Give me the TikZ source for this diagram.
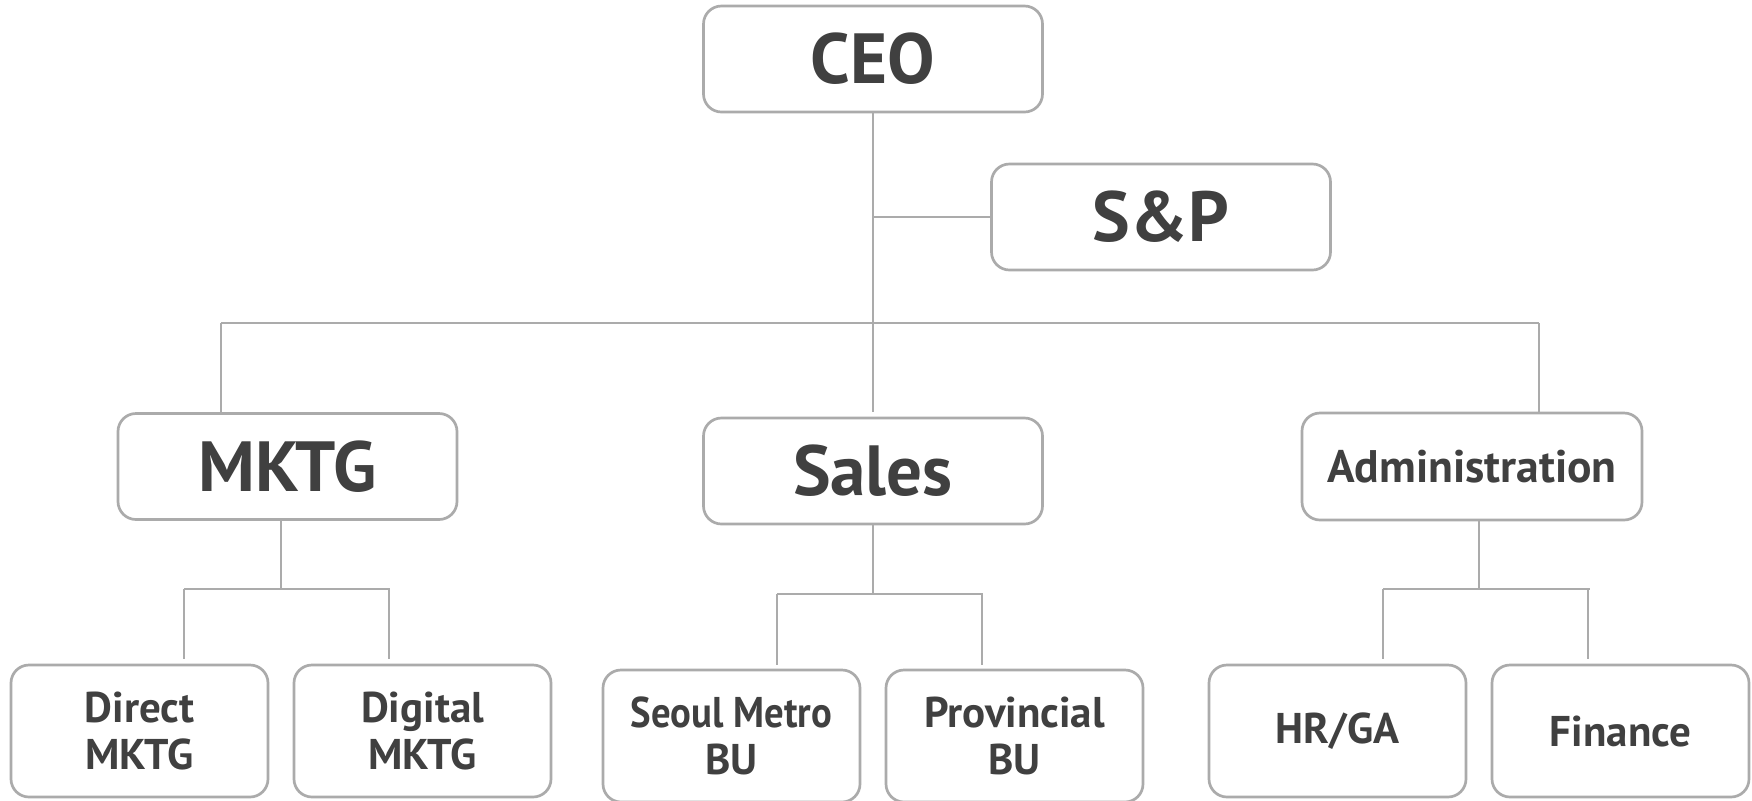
\documentclass[tikz,border=0pt]{standalone}
\usepackage{fontspec}
\setmainfont{PT Sans}
\definecolor{linegray}{HTML}{ABABAB}
\definecolor{txt}{HTML}{404040}
\begin{document}
\begin{tikzpicture}[x=0.5pt,y=-0.5pt,
  box/.style={draw=linegray, line width=1.35pt, rounded corners=9pt, fill=white,
    text=txt, align=center, inner sep=0pt},
  bigbox/.style={box, minimum width=169.5pt, minimum height=53pt,
    font=\fontsize{35.5}{40}\selectfont\bfseries},
  midbox/.style={box, minimum width=170pt, minimum height=53.5pt,
    font=\fontsize{22.8}{27}\selectfont\bfseries},
  smallbox/.style={box, minimum width=128.5pt, minimum height=66pt,
    font=\fontsize{21.5}{23.5}\selectfont\bfseries},
  conn/.style={draw=linegray, line width=1.15pt}
]
\clip (0,0) rectangle (1752,800);
\fill[white] (0,0) rectangle (1752,800);

% top level
\node[bigbox] (CEO) at (873,59) {CEO};
\node[bigbox] (SP) at (1161,217) {S\&P};
\node[bigbox] (MKTG) at (287.5,466.5) {MKTG};
\node[bigbox] (Sales) at (873,471) {Sales};
\node[midbox] (Admin) at (1472,466.5) {Administration};

% bottom level
\node[smallbox] (Direct) at (139.5,731) {Direct\\MKTG};
\node[smallbox] (Digital) at (422.5,731) {Digital\\MKTG};
\node[smallbox] (Seoul) at (731.5,736) {\scalebox{0.9}[1]{Seoul Metro}\\BU};
\node[smallbox] (Prov) at (1014.5,736) {Provincial\\BU};
\node[smallbox] (HR) at (1337.5,731) {HR/GA};
\node[smallbox] (Fin) at (1620.5,731) {Finance};

% trunk
\draw[conn] (CEO.south) -- ([yshift=2.5pt]Sales.north);
\coordinate (spj) at (CEO.south |- SP.west);
\draw[conn] (spj) -- (SP.west);

% main bus
\coordinate (busL) at (221,323);
\coordinate (busR) at (1539,323);
\draw[conn] (busL) -- (busR);
\draw[conn] (busL) -- (busL |- MKTG.north);
\draw[conn] (busR) -- (busR |- Admin.north);

% MKTG branch
\coordinate (mk) at (281,589);
\coordinate (mkL) at (184,589);
\coordinate (mkR) at (390,589);
\draw[conn] (mk |- MKTG.south) -- (mk);
\draw[conn] (mkL) -- (mkR);
\draw[conn] (mkL) -- ([yshift=2.5pt]mkL |- Direct.north);
\draw[conn] (389,589) -- ([yshift=2.5pt]389,0 |- Digital.north);

% Sales branch
\coordinate (sa) at (873,594);
\coordinate (saL) at (777,594);
\coordinate (saR) at (983,594);
\draw[conn] (Sales.south) -- (sa);
\draw[conn] (saL) -- (saR);
\draw[conn] (saL) -- ([yshift=2pt]saL |- Seoul.north);
\draw[conn] (982,594) -- ([yshift=2pt]982,0 |- Prov.north);

% Administration branch
\coordinate (ad) at (1479,589);
\coordinate (adL) at (1383,589);
\coordinate (adR) at (1590,589);
\draw[conn] (ad |- Admin.south) -- (ad);
\draw[conn] (adL) -- (adR);
\draw[conn] (adL) -- ([yshift=2.5pt]adL |- HR.north);
\draw[conn] (1588,589) -- ([yshift=2.5pt]1588,0 |- Fin.north);
\end{tikzpicture}
\end{document}
